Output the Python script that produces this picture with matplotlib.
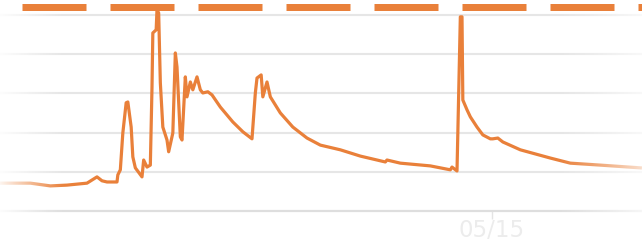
import numpy as np
import pandas as pd
import matplotlib
matplotlib.use("Agg")
import matplotlib.pyplot as plt

# ---- data ----
start = "2023-04-20 00:00"
hours = [10, 46, 70, 90, 114, 126, 132, 138, 150, 151,
         154, 157, 161, 163, 167, 169, 172, 180, 182, 186,
         190, 192, 193, 197, 198, 200, 202, 205, 210, 212,
         217, 220, 222, 226, 228, 232, 234, 238, 241, 246,
         250, 253, 259, 264, 274, 289, 301, 312, 316, 318,
         323, 325, 330, 334, 346, 361, 378, 394, 418, 442,
         472, 474, 490, 526, 550, 552, 558, 559, 562, 564,
         565, 570, 574, 582, 589, 598, 601, 607, 613, 634,
         670, 694, 730, 778]
values = [0.71, 0.71, 0.64, 0.66, 0.71, 0.87, 0.77, 0.74, 0.74, 0.92,
          1.05, 1.99, 2.76, 2.78, 2.14, 1.38, 1.10, 0.87, 1.30, 1.12,
          1.17, 3.16, 4.54, 4.62, 5.13, 5.05, 3.27, 2.14, 1.81, 1.51,
          1.99, 4.03, 3.67, 1.89, 1.81, 3.42, 2.91, 3.29, 3.09, 3.42,
          3.09, 3.01, 3.04, 2.96, 2.65, 2.27, 2.02, 1.84, 3.01, 3.39,
          3.47, 2.91, 3.29, 2.91, 2.50, 2.14, 1.86, 1.68, 1.56, 1.40,
          1.25, 1.30, 1.22, 1.15, 1.05, 1.12, 1.02, 1.99, 4.95, 4.95,
          2.83, 2.58, 2.40, 2.14, 1.94, 1.84, 1.84, 1.86, 1.76, 1.56,
          1.35, 1.22, 1.17, 1.10]

grid_levels = [1, 2, 3, 4, 5]
x_ticks = ["2023-05-15"]
x_tick_labels = ["05/15"]
threshold = 5.204
x_start_h, x_end_h = 9.6, 780.0

ORANGE = "#E9803A"

times = pd.Timestamp(start) + pd.to_timedelta(hours, unit="h")

fig = plt.figure(figsize=(6.42, 2.47), dpi=100)
ax = fig.add_axes([0, 0, 1, 1])

ax.plot(times, values, color=ORANGE, lw=2.3, solid_joinstyle="round", zorder=3)

for g in grid_levels:
    ax.axhline(g, color="#e6e6e6", lw=1.5, zorder=1)

# threshold dashed line
lw_pt = 5.04
ax.axhline(threshold, color=ORANGE, lw=lw_pt,
           linestyle=(66 / 7, (64 / 7, 24 / 7)), dash_capstyle="butt", zorder=6)

# axes styling
for s in ["top", "right", "left"]:
    ax.spines[s].set_visible(False)
ax.spines["bottom"].set_position(("data", 0))
ax.spines["bottom"].set_color("#dedede")
ax.spines["bottom"].set_linewidth(1.6)
ax.set_yticks([])
ax.set_xticks(pd.to_datetime(x_ticks))
ax.set_xticklabels(x_tick_labels)
ax.tick_params(axis="x", direction="out", length=5.5, width=1, color="#e4e4e4",
               labelcolor="#ececec", labelsize=16.5, pad=0)

# edge fade overlay
W = 642
px = np.arange(W)
alpha = np.zeros(W)
left = px < 65
alpha[left] = 0.92 * (1 - px[left] / 65.0) ** 1.1
right = px > 555
alpha[right] = 0.75 * ((px[right] - 555) / (W - 555)) ** 1.2
img = np.ones((10, W, 4))
img[..., 3] = alpha[None, :]
ax.imshow(img, extent=[0, 1, 0, 0.955], transform=ax.transAxes,
          aspect="auto", zorder=5, interpolation="bilinear")

t0 = pd.Timestamp(start)
ax.set_xlim(t0 + pd.Timedelta(hours=x_start_h), t0 + pd.Timedelta(hours=x_end_h))
ax.set_ylim(-0.918, 5.38)

fig.savefig("out.png", dpi=100)
